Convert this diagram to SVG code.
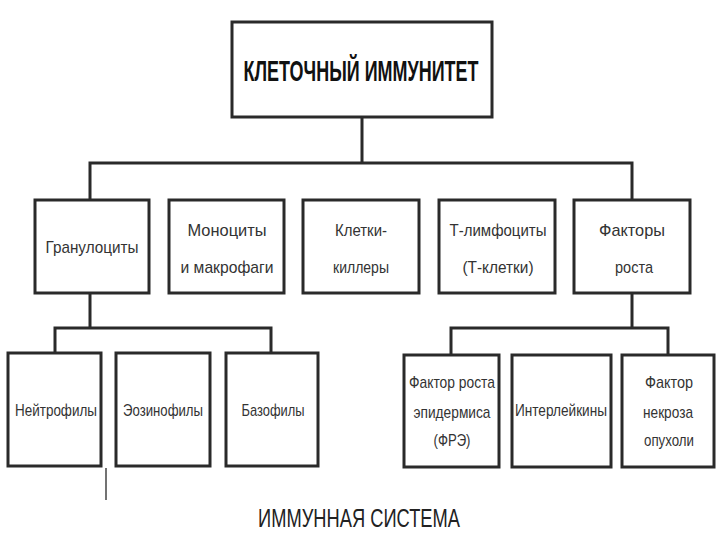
<svg xmlns="http://www.w3.org/2000/svg" width="720" height="540" viewBox="0 0 720 540">
<style>
.box{fill:#fff;stroke:#2a2a2a;stroke-width:3}
.ln{fill:none;stroke:#2a2a2a;stroke-width:3}
.t{font-family:"Liberation Sans Narrow","Liberation Sans",Arial,sans-serif;font-size:17px;fill:#333;text-anchor:middle}
.title{font-family:"Liberation Sans Narrow","Liberation Sans",Arial,sans-serif;font-size:30px;font-weight:bold;fill:#111;text-anchor:middle}
.cap{font-family:"Liberation Sans Narrow","Liberation Sans",Arial,sans-serif;font-size:25px;fill:#222;text-anchor:middle}
</style>
<rect width="720" height="540" fill="#fff"/>
<g id="connectors">
<path class="ln" d="M362 117V163M90 200V163H632V200"/>
<path class="ln" d="M90 293V328M55 353V328H271V353"/>
<path class="ln" d="M632 293V328M451 355V328H668V355"/>
<path d="M106 468V500" stroke="#444" stroke-width="1.5"/>
</g>
<g id="root"><rect class="box" x="232" y="22" width="260" height="95"/><text class="title" x="361" y="81" textLength="235" lengthAdjust="spacingAndGlyphs">КЛЕТОЧНЫЙ ИММУНИТЕТ</text></g>
<g id="granulocytes"><rect class="box" x="35" y="200" width="114" height="93"/><text class="t" x="92" y="253" textLength="93" lengthAdjust="spacingAndGlyphs">Гранулоциты</text></g>
<g id="monocytes"><rect class="box" x="169" y="200" width="115" height="93"/><text class="t" x="227" y="236" textLength="79" lengthAdjust="spacingAndGlyphs">Моноциты</text><text class="t" x="227" y="273" textLength="93" lengthAdjust="spacingAndGlyphs">и макрофаги</text></g>
<g id="killers"><rect class="box" x="303" y="200" width="116" height="93"/><text class="t" x="361" y="236" textLength="52" lengthAdjust="spacingAndGlyphs">Клетки-</text><text class="t" x="361" y="273" textLength="56" lengthAdjust="spacingAndGlyphs">киллеры</text></g>
<g id="tcells"><rect class="box" x="439" y="200" width="116" height="93"/><text class="t" x="498" y="236" textLength="97" lengthAdjust="spacingAndGlyphs">Т-лимфоциты</text><text class="t" x="498" y="273" textLength="71" lengthAdjust="spacingAndGlyphs">(Т-клетки)</text></g>
<g id="growth"><rect class="box" x="574" y="200" width="116" height="93"/><text class="t" x="632" y="236" textLength="66" lengthAdjust="spacingAndGlyphs">Факторы</text><text class="t" x="634" y="273" textLength="38" lengthAdjust="spacingAndGlyphs">роста</text></g>
<g id="neutrophils"><rect class="box" x="8" y="353" width="93" height="113"/><text class="t" x="56" y="416" textLength="82" lengthAdjust="spacingAndGlyphs">Нейтрофилы</text></g>
<g id="eosinophils"><rect class="box" x="116" y="353" width="94" height="113"/><text class="t" x="163" y="416" textLength="80" lengthAdjust="spacingAndGlyphs">Эозинофилы</text></g>
<g id="basophils"><rect class="box" x="226" y="353" width="92" height="113"/><text class="t" x="273" y="416" textLength="63" lengthAdjust="spacingAndGlyphs">Базофилы</text></g>
<g id="egf"><rect class="box" x="404" y="355" width="95" height="112"/><text class="t" x="452" y="388" textLength="86" lengthAdjust="spacingAndGlyphs">Фактор роста</text><text class="t" x="452" y="418" textLength="77" lengthAdjust="spacingAndGlyphs">эпидермиса</text><text class="t" x="452" y="446" textLength="37" lengthAdjust="spacingAndGlyphs">(ФРЭ)</text></g>
<g id="interleukins"><rect class="box" x="512" y="355" width="99" height="112"/><text class="t" x="561" y="416" textLength="92" lengthAdjust="spacingAndGlyphs">Интерлейкины</text></g>
<g id="tnf"><rect class="box" x="622" y="355" width="92" height="112"/><text class="t" x="669" y="388" textLength="48" lengthAdjust="spacingAndGlyphs">Фактор</text><text class="t" x="668" y="418" textLength="50" lengthAdjust="spacingAndGlyphs">некроза</text><text class="t" x="669" y="446" textLength="50" lengthAdjust="spacingAndGlyphs">опухоли</text></g>
<text class="cap" x="359" y="527" textLength="202" lengthAdjust="spacingAndGlyphs">ИММУННАЯ СИСТЕМА</text>
</svg>
